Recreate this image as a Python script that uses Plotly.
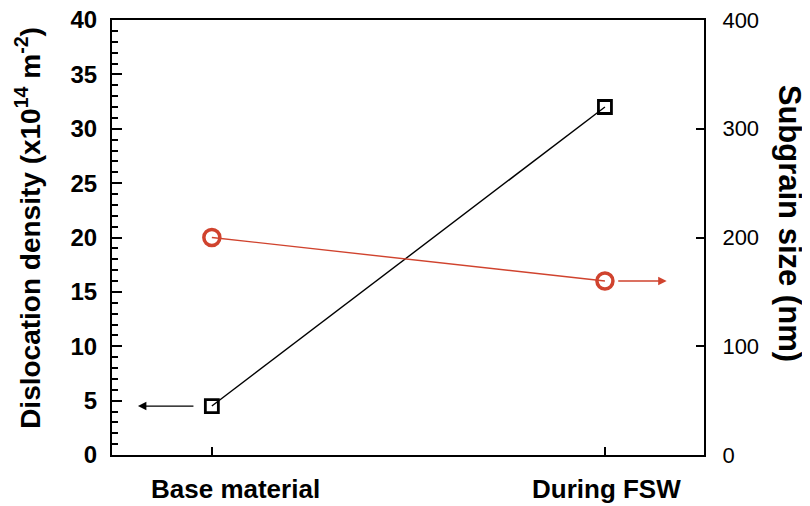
import plotly.graph_objects as go

categories = ["Base material", "During FSW"]
cat_pos = [0, 1]
dislocation_density = [4.5, 32]
subgrain_size = [200, 160]
left_ticks = [0, 5, 10, 15, 20, 25, 30, 35, 40]
right_ticks = [0, 100, 200, 300, 400]

FONT = "Liberation Sans, Arial, sans-serif"
RED = "#d0432e"

fig = go.Figure()
fig.add_trace(go.Scatter(
    x=cat_pos, y=dislocation_density, mode="lines+markers",
    line=dict(color="black", width=1.4),
    marker=dict(symbol="square-open", size=13, color="black", line=dict(width=2.8)),
    showlegend=False, yaxis="y"))
fig.add_trace(go.Scatter(
    x=cat_pos, y=subgrain_size, mode="lines+markers",
    line=dict(color=RED, width=1.4),
    marker=dict(symbol="circle-open", size=16, color=RED, line=dict(width=3.5)),
    showlegend=False, yaxis="y2"))

# arrows pointing to the relevant axes
fig.add_annotation(x=-0.188, y=dislocation_density[0], ax=-0.043, ay=dislocation_density[0],
                   xref="x", yref="y", axref="x", ayref="y", text="", showarrow=True,
                   arrowhead=2, arrowsize=1.3, arrowwidth=1.3, arrowcolor="black")
fig.add_annotation(x=1.157, y=subgrain_size[1], ax=1.03, ay=subgrain_size[1],
                   xref="x", yref="y2", axref="x", ayref="y2", text="", showarrow=True,
                   arrowhead=2, arrowsize=1.3, arrowwidth=1.3, arrowcolor=RED)

# category labels (the first one sits a little right of its tick in the reference)
label_shift = [24, 2]
for c, p, s in zip(categories, cat_pos, label_shift):
    fig.add_annotation(x=p, y=0, xref="x", yref="paper", yanchor="top", xanchor="center",
                       xshift=s, yshift=-17, text="<b>%s</b>" % c, showarrow=False,
                       font=dict(family=FONT, size=26, color="black"))

# axis titles
fig.add_annotation(x=-0.142, y=0.522, xref="paper", yref="paper", xanchor="center", yanchor="middle",
                   text="<b>Dislocation density (x10<sup>14</sup> m<sup>-2</sup>)</b>", textangle=-90,
                   showarrow=False, font=dict(family=FONT, size=28, color="black"))
fig.add_annotation(x=1.0, y=0.534, xref="paper", yref="paper", xanchor="center", yanchor="middle",
                   xshift=85, text="<b>Subgrain size (nm)</b>", textangle=90, showarrow=False,
                   font=dict(family=FONT, size=31, color="black"))

# the page adds an 8px body margin; margins are reduced so the plot lands where the reference has it
fig.update_layout(
    width=810, height=506,
    margin=dict(l=104, r=114, t=12, b=59),
    paper_bgcolor="white", plot_bgcolor="white",
    font=dict(family=FONT, color="black", size=19),
    xaxis=dict(range=[-0.254, 1.252], tickvals=cat_pos, ticktext=["", ""],
               ticks="inside", ticklen=8, tickwidth=1.5, tickcolor="black",
               showline=True, linecolor="black", linewidth=2, mirror=True,
               showgrid=False, zeroline=False, automargin=False),
    yaxis=dict(range=[0, 40], tickvals=left_ticks, ticktext=["<b>%d</b>" % v for v in left_ticks],
               ticks="inside", ticklen=10, tickwidth=2, tickcolor="black",
               minor=dict(dtick=1, ticks="inside", ticklen=6, tickwidth=1.5, tickcolor="black"),
               showline=True, linecolor="black", linewidth=2,
               showgrid=False, zeroline=False, ticklabelstandoff=8, automargin=False,
               ticklabeloverflow="allow", tickfont=dict(size=24, family=FONT)),
    yaxis2=dict(range=[0, 400], overlaying="y", side="right", tickvals=right_ticks,
                ticktext=["%d" % v for v in right_ticks],
                ticks="inside", ticklen=8, tickwidth=1.5, tickcolor="black",
                showline=True, linecolor="black", linewidth=2,
                showgrid=False, zeroline=False, ticklabelstandoff=12, automargin=False,
                ticklabeloverflow="allow", tickfont=dict(size=22, family=FONT)),
)

fig.write_html("out.html")
